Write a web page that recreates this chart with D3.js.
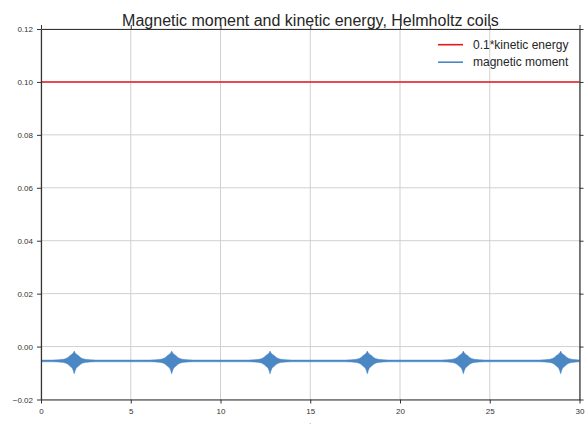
<!DOCTYPE html>
<html>
<head>
<meta charset="utf-8">
<script src="https://cdn.jsdelivr.net/npm/d3@7"></script>
<style>
  html, body { margin: 0; padding: 0; background: #fff; }
  svg { display: block; font-family: "Liberation Sans", Arial, Helvetica, sans-serif; }
</style>
</head>
<body>
<svg id="chart" width="585" height="424"></svg>
<script>
// Axis ticks
const xTicks = [0, 5, 10, 15, 20, 25, 30];
const yTicks = [-0.02, 0.00, 0.02, 0.04, 0.06, 0.08, 0.10, 0.12];

// 0.1 * kinetic energy (constant over the run)
const energyT = [0, 30];
const energyValue = [0.1, 0.1];

// Magnetic moment: quiet level plus bursts at each pass through the coils
const momentLevelUpper = -0.0051;
const momentLevelLower = -0.00575;
const burstCenters = [1.85, 7.28, 12.76, 18.18, 23.53, 28.95];
// envelope of one burst (offset in t, upper and lower extent)
const burstOffsets = [-1.2, -0.9, -0.6, -0.45, -0.33, -0.25, -0.17, -0.11, -0.056, 0, 0.056, 0.11, 0.17, 0.25, 0.33, 0.45, 0.6, 0.9, 1.2];
const burstUpper   = [-0.0051, -0.0050, -0.0048, -0.0045, -0.0040, -0.0035, -0.0031, -0.0028, -0.0024, -0.0017, -0.0024, -0.0028, -0.0031, -0.0035, -0.0040, -0.0045, -0.0048, -0.0050, -0.0051];
const burstLower   = [-0.00575, -0.0058, -0.0060, -0.0063, -0.0068, -0.0073, -0.0077, -0.0082, -0.0090, -0.0103, -0.0090, -0.0082, -0.0077, -0.0073, -0.0068, -0.0063, -0.0060, -0.0058, -0.00575];

const seriesNames = ["0.1*kinetic energy", "magnetic moment"];
const seriesColors = ["#e4191f", "#4a87c4"];

const W = 585, H = 424;
const margin = { top: 29, right: 5.5, bottom: 24.5, left: 41 };
const svg = d3.select("#chart");

const x = d3.scaleLinear().domain([0, 30]).range([margin.left, W - margin.right]);
const y = d3.scaleLinear().domain([-0.02, 0.12]).range([H - margin.bottom, margin.top]);

// grid
const grid = svg.append("g").attr("stroke", "#d0d0d0").attr("stroke-width", 1);
grid.selectAll(".gx").data(xTicks).join("line")
  .attr("x1", d => x(d)).attr("x2", d => x(d))
  .attr("y1", y(0.12)).attr("y2", y(-0.02));
grid.selectAll(".gy").data(yTicks).join("line")
  .attr("x1", x(0)).attr("x2", x(30))
  .attr("y1", d => y(d)).attr("y2", d => y(d));

// clip to plot area
svg.append("clipPath").attr("id", "plot")
  .append("rect")
  .attr("x", x(0)).attr("y", y(0.12))
  .attr("width", x(30) - x(0)).attr("height", y(-0.02) - y(0.12));

// build magnetic moment envelope
const momentPts = [{ t: 0, hi: momentLevelUpper, lo: momentLevelLower }];
burstCenters.forEach(c => {
  burstOffsets.forEach((o, i) => {
    momentPts.push({ t: c + o, hi: burstUpper[i], lo: burstLower[i] });
  });
});
momentPts.push({ t: 31, hi: momentLevelUpper, lo: momentLevelLower });

const plot = svg.append("g").attr("clip-path", "url(#plot)");

plot.append("path")
  .datum(momentPts)
  .attr("fill", seriesColors[1])
  .attr("stroke", seriesColors[1])
  .attr("stroke-width", 0.5)
  .attr("d", d3.area().x(d => x(d.t)).y0(d => y(d.lo)).y1(d => y(d.hi)));

plot.append("path")
  .datum(energyT.map((t, i) => ({ t, v: energyValue[i] })))
  .attr("fill", "none")
  .attr("stroke", seriesColors[0])
  .attr("stroke-width", 1.6)
  .attr("d", d3.line().x(d => x(d.t)).y(d => y(d.v)));

// axes on all four sides, ticks outward
const fmtY = d => d3.format(".2f")(d).replace("-", "\u2212");
function styleAxis(g) {
  g.select(".domain").attr("stroke", "#333").attr("stroke-width", 1.2);
  g.selectAll(".tick line").attr("stroke", "#333").attr("stroke-width", 1);
  g.selectAll("text").attr("fill", "#333").style("font-size", "8px")
    .style("font-family", "'Liberation Sans', Arial, sans-serif");
}
svg.append("g").attr("transform", `translate(0,${y(-0.02)})`)
  .call(d3.axisBottom(x).tickValues(xTicks).tickSize(4).tickPadding(5).tickSizeOuter(0).tickFormat(d3.format("d")))
  .call(styleAxis);
svg.append("g").attr("transform", `translate(0,${y(0.12)})`)
  .call(d3.axisTop(x).tickValues(xTicks).tickSize(4).tickSizeOuter(0).tickFormat(""))
  .call(styleAxis);
svg.append("g").attr("transform", `translate(${x(0)},0)`)
  .call(d3.axisLeft(y).tickValues(yTicks).tickSize(4).tickPadding(4).tickSizeOuter(0).tickFormat(fmtY))
  .call(styleAxis);
svg.append("g").attr("transform", `translate(${x(30)},0)`)
  .call(d3.axisRight(y).tickValues(yTicks).tickSize(4).tickSizeOuter(0).tickFormat(""))
  .call(styleAxis);

// x label (sits at the lower edge of the figure)
svg.append("text")
  .attr("x", x(15)).attr("y", 430.5)
  .attr("text-anchor", "middle")
  .attr("fill", "#333")
  .style("font-size", "11px")
  .text("t");

// title
svg.append("text")
  .attr("x", 310.5).attr("y", 26)
  .attr("text-anchor", "middle")
  .attr("fill", "#262626")
  .style("font-size", "16px")
  .text("Magnetic moment and kinetic energy, Helmholtz coils");

// legend
const legend = svg.append("g");
seriesNames.forEach((name, i) => {
  const ly = 44.7 + i * 17.5;
  legend.append("line")
    .attr("x1", 438).attr("x2", 463)
    .attr("y1", ly).attr("y2", ly)
    .attr("stroke", seriesColors[i]).attr("stroke-width", 1.6);
  legend.append("text")
    .attr("x", 473).attr("y", ly)
    .attr("dy", "0.35em")
    .attr("fill", "#262626")
    .style("font-size", "12px")
    .text(name);
});
</script>
</body>
</html>
